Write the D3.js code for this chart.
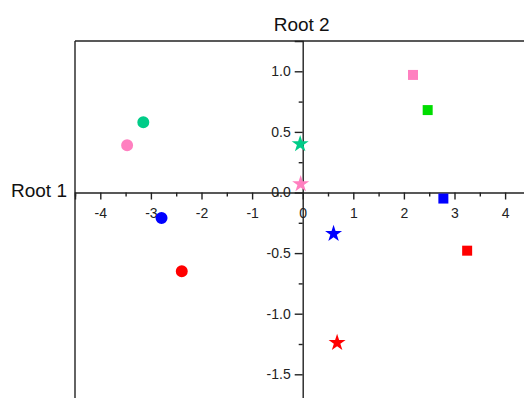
<!DOCTYPE html>
<html>
<head>
<meta charset="utf-8">
<script src="https://cdn.jsdelivr.net/npm/d3@7"></script>
<style>
  body { margin: 0; background: #fff; }
  svg { display: block; font-family: "Liberation Sans", Arial, sans-serif; }
  .axis text { font-size: 14px; fill: #222; }
  .axis line, .axis path { stroke: #222; stroke-width: 1.4; }
</style>
</head>
<body>
<div id="chart"></div>
<script>
// discriminant scores
const root1  = [-3.15, -3.47, -2.79, -2.39,  2.18, 2.47,  2.78,  3.25, -0.05, -0.04,  0.61,  0.68];
const root2  = [ 0.58,  0.39, -0.21, -0.65,  0.97, 0.68, -0.05, -0.48,  0.40,  0.07, -0.34, -1.24];
const shapes = ['circle','circle','circle','circle','square','square','square','square','star','star','star','star'];
const colors = ['#00cc88','#ff80c0','#0000ff','#ff0000','#ff80c0','#00dd00','#0000ff','#ff0000','#00cc88','#ff80c0','#0000ff','#ff0000'];

const xTicks = [-4, -3, -2, -1, 0, 1, 2, 3, 4];
const yTicks = [-1.5, -1.0, -0.5, 0.0, 0.5, 1.0];

const W = 524, H = 398;
const margin = {top: 41, left: 75};

// plain hyphen for negatives, like the original
const loc = d3.formatLocale({decimal: '.', thousands: ',', grouping: [3], currency: ['', ''], minus: '-'});

const svg = d3.select('#chart').append('svg')
  .attr('width', W)
  .attr('height', H);

const x = d3.scaleLinear().domain([-4.5, 4.5]).range([margin.left, margin.left + 9 * 50.6]);
const y = d3.scaleLinear().domain([1.25, -1.75]).range([margin.top, margin.top + 3 * 121.2]);

// frame (left + top only, the rest runs off the page)
svg.append('line')
  .attr('x1', x(-4.5)).attr('x2', x(-4.5))
  .attr('y1', y(1.25)).attr('y2', H + 10)
  .attr('stroke', '#222').attr('stroke-width', 1.4);
svg.append('line')
  .attr('x1', x(-4.5)).attr('x2', W + 10)
  .attr('y1', y(1.25)).attr('y2', y(1.25))
  .attr('stroke', '#222').attr('stroke-width', 1.4);

// minor ticks
svg.append('g')
  .attr('class', 'axis')
  .attr('transform', 'translate(0,' + y(0) + ')')
  .call(d3.axisBottom(x).tickValues(d3.range(-4.5, 4.6, 1)).tickSize(4).tickFormat(''))
  .call(g => g.select('.domain').remove());
svg.append('g')
  .attr('class', 'axis')
  .attr('transform', 'translate(' + x(0) + ',0)')
  .call(d3.axisLeft(y).tickValues([-1.75, -1.25, -0.75, -0.25, 0.25, 0.75]).tickSize(4).tickFormat(''))
  .call(g => g.select('.domain').remove());

// main axes through the origin
svg.append('g')
  .attr('class', 'axis')
  .attr('transform', 'translate(0,' + y(0) + ')')
  .call(d3.axisBottom(x).tickValues(xTicks).tickSizeOuter(0).tickSize(7).tickPadding(9).tickFormat(loc.format('d')));

svg.append('g')
  .attr('class', 'axis')
  .attr('transform', 'translate(' + x(0) + ',0)')
  .call(d3.axisLeft(y).tickValues(yTicks).tickSizeOuter(0).tickSize(8).tickPadding(4).tickFormat(loc.format('.1f')));

// axis titles
svg.append('text')
  .attr('x', x(0) - 1)
  .attr('y', 31)
  .attr('text-anchor', 'middle')
  .attr('font-size', 19)
  .attr('fill', '#111')
  .text('Root 2');

svg.append('text')
  .attr('x', 67)
  .attr('y', y(0) + 4)
  .attr('text-anchor', 'end')
  .attr('font-size', 19)
  .attr('fill', '#111')
  .text('Root 1');

// points
const symbolFor = { circle: d3.symbolCircle, square: d3.symbolSquare, star: d3.symbolStar };
const sizeFor = { circle: 113, square: 100, star: 90 };

svg.append('g')
  .selectAll('path')
  .data(root1.map((v, i) => ({ r1: v, r2: root2[i], shape: shapes[i], color: colors[i] })))
  .enter().append('path')
    .attr('transform', d => 'translate(' + x(d.r1) + ',' + y(d.r2) + ')')
    .attr('d', d => d3.symbol().type(symbolFor[d.shape]).size(sizeFor[d.shape])())
    .attr('fill', d => d.color);
</script>
</body>
</html>
